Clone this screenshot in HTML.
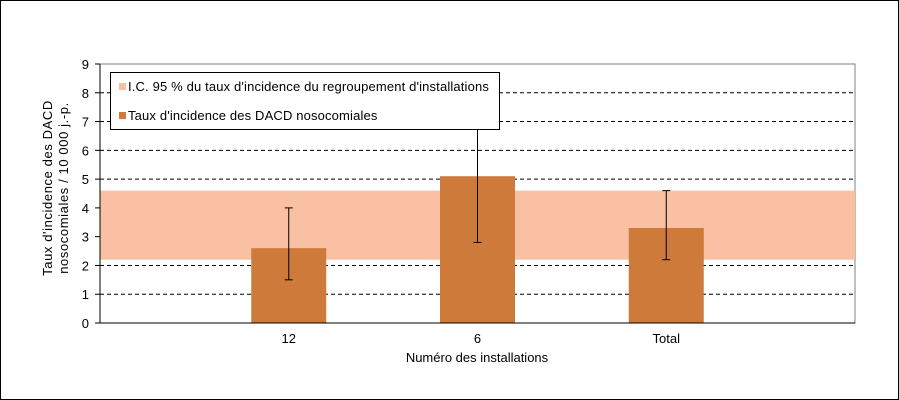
<!DOCTYPE html>
<html><head><meta charset="utf-8"><style>
body{margin:0;background:#fff}
svg{display:block;font-family:"Liberation Sans",sans-serif}
</style></head><body>
<svg id="c" width="899" height="400">
<rect x="0.5" y="0.5" width="898" height="399" fill="#fff" stroke="#000"/>
<g id="g"></g>
</svg>
<script>
const categories = ["12", "6", "Total"];
const rates = [2.6, 5.1, 3.3];
const errLow = [1.5, 2.8, 2.2];
const errHigh = [4.0, 7.6, 4.6];
const bandLow = 2.2;
const bandHigh = 4.6;
const yTicks = [0,1,2,3,4,5,6,7,8,9];

const NS="http://www.w3.org/2000/svg";
const g=document.getElementById('g');
const X0=100,X1=855,Y0=323,Y1=64,YMAX=9;
const slot=(X1-X0)/(categories.length+1);
const y=v=>Y0-(v/YMAX)*(Y0-Y1);
const x=i=>X0+slot*(i+1);
function mk(t,a,txt){const e=document.createElementNS(NS,t);for(const k in a)e.setAttribute(k,a[k]);if(txt!==undefined)e.textContent=txt;g.appendChild(e);return e;}

let e=mk('rect',{x:X0,y:Y1,width:X1-X0,height:Y0-Y1,fill:'#fff',stroke:'#808080'});


yTicks.forEach(t=>{
  if(t>0&&t<YMAX){e=mk('line',{x1:X0,x2:X1,y1:y(t),y2:y(t),stroke:'#000','stroke-dasharray':'4,3'});
  
  }
  e=mk('line',{x1:X0-5,x2:X0,y1:y(t),y2:y(t),stroke:'#000'});
  
  
  e=mk('text',{x:X0-11,y:y(t)+5,'text-anchor':'end','font-size':13},t);
  
  
});
e=mk('rect',{x:X0,y:y(bandHigh),width:X1-X0,height:y(bandLow)-y(bandHigh),fill:'#f9c0a4'});


categories.forEach((c,i)=>{
  const cx=x(i),w=75;
  e=mk('rect',{x:cx-w/2,y:y(rates[i]),width:w,height:Y0-y(rates[i]),fill:'#cd7a3a'});
  
  
  e=mk('line',{x1:cx,x2:cx,y1:y(errLow[i]),y2:y(errHigh[i]),stroke:'#000'});
  
  
  [errLow[i],errHigh[i]].forEach(v=>{e=mk('line',{x1:cx-4,x2:cx+4,y1:y(v),y2:y(v),stroke:'#000'});
  
  });
  e=mk('text',{x:cx,y:Y0+20,'text-anchor':'middle','font-size':13},c);
  
  
});
e=mk('line',{x1:X0,x2:X0,y1:Y1,y2:Y0,stroke:'#000'});


e=mk('line',{x1:X0,x2:X1,y1:Y0,y2:Y0,stroke:'#000'});


e=mk('text',{x:477,y:362,'text-anchor':'middle','font-size':13},'Numéro des installations');


e=mk('text',{transform:'translate(52,188) rotate(-90)','text-anchor':'middle','font-size':13,'letter-spacing':'0.6'},"Taux d'incidence des DACD");


e=mk('text',{transform:'translate(68,188) rotate(-90)','text-anchor':'middle','font-size':13,'letter-spacing':'0.6'},'nosocomiales / 10 000 j.-p.');


e=mk('rect',{x:110.5,y:72.5,width:389,height:57,fill:'#fff',stroke:'#000'});


e=mk('rect',{x:119,y:83,width:7,height:7,fill:'#f9c0a4'});


e=mk('text',{x:128,y:91,'font-size':13,'letter-spacing':'0.15'},"I.C. 95 % du taux d'incidence du regroupement d'installations");


e=mk('rect',{x:119,y:112,width:7,height:7,fill:'#cd7a3a'});


e=mk('text',{x:128,y:120,'font-size':13,'letter-spacing':'0.15'},"Taux d'incidence des DACD nosocomiales");


</script>
</body></html>
